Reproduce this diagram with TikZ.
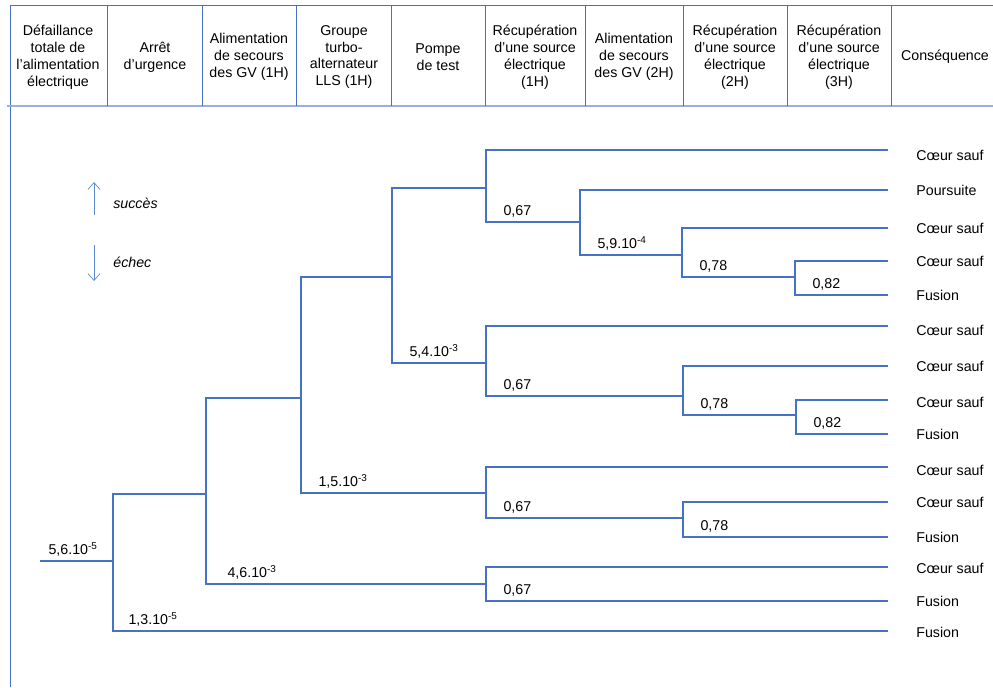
\documentclass[tikz,border=0pt]{standalone}
\usepackage{fontspec}
\setmainfont{Liberation Sans}
\usetikzlibrary{arrows.meta,positioning}
\definecolor{arbre}{RGB}{68,114,196}
\definecolor{cadre}{RGB}{150,178,220}
\definecolor{legende}{RGB}{91,139,208}

\begin{document}
\begin{tikzpicture}[x=0.02cm, y=-0.02cm, font=\fontsize{8.1}{9.6}\selectfont,
  branche/.style={draw=arbre, line width=0.6pt},
  proba/.style={anchor=base west, inner sep=0pt, xshift=0.34cm, yshift=0.14cm},
  titre/.style={align=center, inner sep=0pt},
  issue/.style={anchor=west, inner sep=0pt},
  >={Straight Barb[length=4pt,width=7pt]}]
  \useasboundingbox (0,0) rectangle (993,687);

  % en-tete
  \draw[arbre] (10,687) -- (10,5) -- (993,5);
  \draw[cadre, line width=1pt] (7,106) -- (993,106);
  \foreach \x in {107,202,296,391,485,585,683,787,891}
    \draw[arbre] (\x,5) -- (\x,106);
  \node[titre] (h1)  at (58,57)  {Défaillance\\totale de\\l’alimentation\\électrique};
  \node[titre] (h2)  at (155,57) {Arrêt\\d’urgence};
  \node[titre] (h3)  at (249,57) {Alimentation\\de secours\\des GV (1H)};
  \node[titre] (h4)  at (344,57) {Groupe\\turbo-\\alternateur\\LLS (1H)};
  \node[titre] (h5)  at (438,57) {Pompe\\de test};
  \node[titre] (h6)  at (535,57) {Récupération\\d’une source\\électrique\\(1H)};
  \node[titre] (h7)  at (634,57) {Alimentation\\de secours\\des GV (2H)};
  \node[titre] (h8)  at (735,57) {Récupération\\d’une source\\électrique\\(2H)};
  \node[titre] (h9)  at (839,57) {Récupération\\d’une source\\électrique\\(3H)};
  \node[titre] (h10) at (945,57) {Conséquence};

  % legende
  \coordinate (s1) at (94,215); \coordinate (s2) at (94,182);
  \coordinate (e1) at (94,245); \coordinate (e2) at (94,281);
  \draw[->, legende] (s1) -- (s2);
  \draw[->, legende] (e1) -- (e2);
  \node[issue] (succes) at (113,203) {\itshape succès};
  \node[issue] (echec)  at (113,262) {\itshape échec};

  % embranchements
  \coordinate (r)   at (40,561);
  \coordinate (f1)  at (113,561);
  \coordinate (f2)  at (206,494);
  \coordinate (f3)  at (301,398);
  \coordinate (f4)  at (486,584);
  \coordinate (f5)  at (392,277);
  \coordinate (f6)  at (486,493);
  \coordinate (f7)  at (683,518);
  \coordinate (f8)  at (486,188);
  \coordinate (f9)  at (486,363);
  \coordinate (f10) at (580,222);
  \coordinate (f11) at (682,255);
  \coordinate (f12) at (795,277);
  \coordinate (f13) at (683,396);
  \coordinate (f14) at (796,415);

  % issues
  \foreach \i/\y/\ty/\t in {1/150/155/C\oe ur sauf, 2/190/190/Poursuite,
      3/228/228/C\oe ur sauf, 4/261/261/C\oe ur sauf, 5/295/295/Fusion,
      6/326/330/C\oe ur sauf, 7/366/366/C\oe ur sauf, 8/400/402/C\oe ur sauf,
      9/434/434/Fusion, 10/467/470/C\oe ur sauf, 11/502/502/C\oe ur sauf,
      12/537/537/Fusion, 13/567/568/C\oe ur sauf, 14/601/601/Fusion,
      15/631/632/Fusion} {
    \coordinate (x\i) at (888,\y);
    \node[issue] (c\i) at (916,\ty) {\t};
  }

  \draw[branche] (r) -- (f1)
    node[proba, pos=0, xshift=-0.18cm] {5,6.10\textsuperscript{-5}};
  \draw[branche] (f1) |- (f2);
  \draw[branche] (f1) |- (x15)
    node[proba, pos=0.5, xshift=-0.04cm] {1,3.10\textsuperscript{-5}};
  \draw[branche] (f2) |- (f3);
  \draw[branche] (f2) |- (f4)
    node[proba, pos=0.5, xshift=0.08cm] {4,6.10\textsuperscript{-3}};
  \draw[branche] (f4) |- (x13);
  \draw[branche] (f4) |- (x14) node[proba, pos=0.5] {0,67};
  \draw[branche] (f3) |- (f5);
  \draw[branche] (f3) |- (f6) node[proba, pos=0.5] {1,5.10\textsuperscript{-3}};
  \draw[branche] (f6) |- (x10);
  \draw[branche] (f6) |- (f7) node[proba, pos=0.5] {0,67};
  \draw[branche] (f7) |- (x11);
  \draw[branche] (f7) |- (x12) node[proba, pos=0.5] {0,78};
  \draw[branche] (f5) |- (f8);
  \draw[branche] (f5) |- (f9) node[proba, pos=0.5] {5,4.10\textsuperscript{-3}};
  \draw[branche] (f8) |- (x1);
  \draw[branche] (f8) |- (f10) node[proba, pos=0.5] {0,67};
  \draw[branche] (f10) |- (x2);
  \draw[branche] (f10) |- (f11) node[proba, pos=0.5] {5,9.10\textsuperscript{-4}};
  \draw[branche] (f11) |- (x3);
  \draw[branche] (f11) |- (f12) node[proba, pos=0.5] {0,78};
  \draw[branche] (f12) |- (x4);
  \draw[branche] (f12) |- (x5) node[proba, pos=0.5] {0,82};
  \draw[branche] (f9) |- (x6);
  \draw[branche] (f9) |- (f13) node[proba, pos=0.5] {0,67};
  \draw[branche] (f13) |- (x7);
  \draw[branche] (f13) |- (f14) node[proba, pos=0.5] {0,78};
  \draw[branche] (f14) |- (x8);
  \draw[branche] (f14) |- (x9) node[proba, pos=0.5] {0,82};
\end{tikzpicture}
\end{document}
